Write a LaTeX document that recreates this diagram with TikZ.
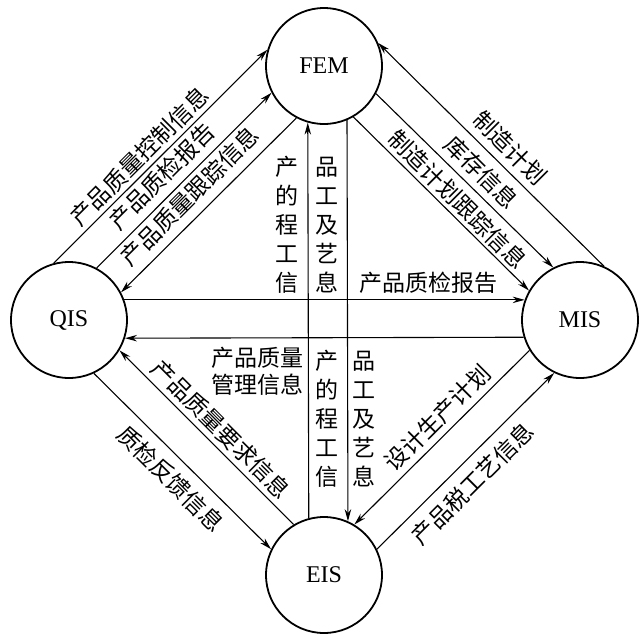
\documentclass[tikz,border=0pt]{standalone}
\usepackage{fontspec}
\newfontfamily\cjk{Noto Sans CJK SC}
\newfontfamily\lat{Liberation Serif}
\usetikzlibrary{arrows.meta}
\tikzset{
  sysnode/.style={circle, draw, line width=1.8pt, minimum size=116pt, inner sep=0pt, font=\lat\fontsize{24}{28}\selectfont},
  flow/.style={line width=1.1pt, -{Stealth[length=12pt,width=6.5pt]}},
  lab/.style={font=\cjk\fontsize{23}{28}\selectfont, inner sep=0pt},
  vcol/.style={font=\cjk\fontsize{23}{29}\selectfont, align=center, inner sep=0pt},
}
\begin{document}
\begin{tikzpicture}[x=1pt,y=-1pt]
\useasboundingbox (0,0) rectangle (639,633);
\node[sysnode] (FEM) at (324,66) {FEM};
\node[sysnode] (QIS) at (69,320) {QIS};
\node[sysnode] (MIS) at (580,320) {MIS};
\node[sysnode] (EIS) at (324,575) {EIS};
% QIS - FEM
\draw[flow] (QIS.105.5) -- (FEM.164.5);
\draw[flow] (QIS.62.6) -- (FEM.207.4);
\draw[flow] (FEM.242.1) -- (QIS.28.1);
% FEM - MIS
\draw[flow] (MIS.66.6) -- (FEM.23.4);
\draw[flow] (FEM.332.6) -- (MIS.117.4);
\draw[flow] (FEM.300.3) -- (MIS.150.3);
% QIS - EIS
\draw[flow] (EIS.121) -- (QIS.329);
\draw[flow] (QIS.295.2) -- (EIS.154.8);
% EIS - MIS
\draw[flow] (MIS.211) -- (EIS.59);
\draw[flow] (EIS.26) -- (MIS.244);
% horizontal
\draw[flow] (QIS.20) -- (MIS.160);
\draw[flow] (MIS.197.9) -- (QIS.342.1);
% vertical
\draw[flow] (EIS.105.9) -- (FEM.254.1);
\draw[flow] (FEM.293.1) -- (EIS.66.9);
% labels
\node[lab, rotate=45] (l1) at (139.5,156.5) {产品质量控制信息};
\node[lab, rotate=45] (l2) at (161.75,176.25) {产品质检报告};
\node[lab, rotate=45] (l3) at (189.75,196.25) {产品质量跟踪信息};
\node[lab, rotate=-45] (l4) at (510,148) {制造计划};
\node[lab, rotate=-45] (l5) at (481.5,172.5) {库存信息};
\node[lab, rotate=-45] (l6) at (457.5,199.5) {制造计划跟踪信息};
\node[lab, rotate=-45] (l7) at (221,429) {产品质量要求信息};
\node[lab, rotate=-45] (l8) at (170.75,478.75) {质检反馈信息};
\node[lab, rotate=45] (l9) at (437.5,418) {设计生产计划};
\node[lab, rotate=45] (l10) at (472.5,483.5) {产品税工艺信息};
\node[lab] (l11) at (428,283) {产品质检报告};
\node[lab, align=right, anchor=east, font=\cjk\fontsize{23}{27}\selectfont] (l12) at (304,371.5) {产品质量\\管理信息};
\node[vcol] (c1) at (287,225) {产\\的\\程\\工\\信};
\node[vcol] (c2) at (327,225) {品\\工\\及\\艺\\息};
\node[vcol] (c3) at (327,419) {产\\的\\程\\工\\信};
\node[vcol] (c4) at (364,419) {品\\工\\及\\艺\\息};
\end{tikzpicture}
\end{document}
